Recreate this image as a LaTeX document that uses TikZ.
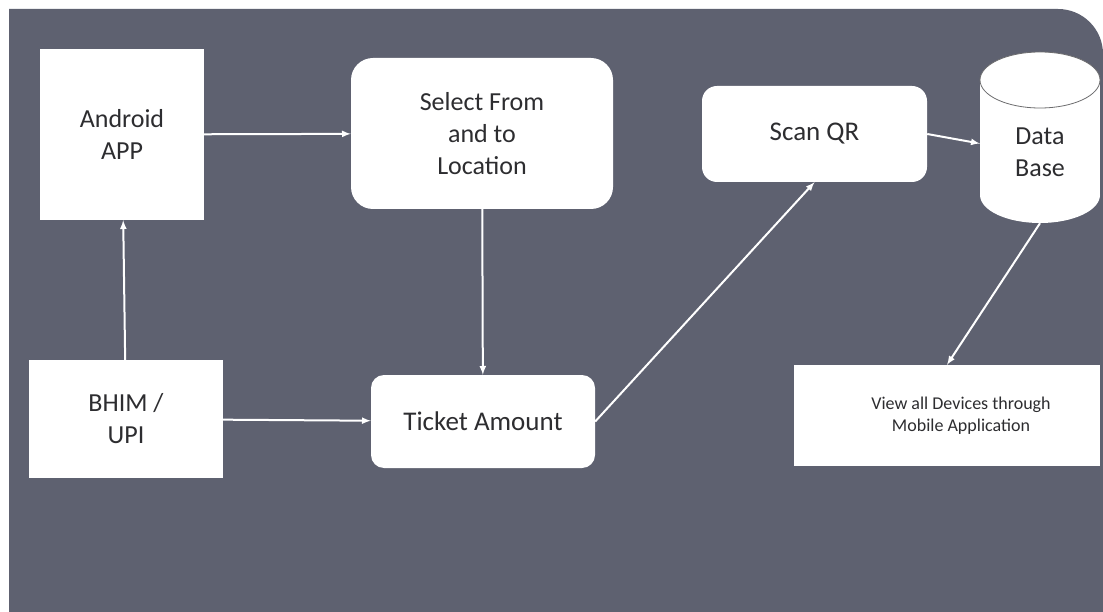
\documentclass[tikz,border=0pt]{standalone}
\usepackage{fontspec}
\setmainfont{Carlito}
\usetikzlibrary{arrows,positioning}

\definecolor{panel}{RGB}{94,97,112}
\definecolor{ink}{RGB}{45,45,48}

\tikzset{
  block/.style={fill=white, text=ink, align=center, inner sep=0pt,
    font=\fontsize{26}{32}\selectfont},
  rblock/.style={block, rounded corners=#1},
  flow/.style={draw=white, line width=2pt, -latex}
}

\begin{document}
\begin{tikzpicture}[x=1pt,y=-1pt]
	\useasboundingbox (0,0) rectangle (1103,612);
	\fill[white] (0,0) rectangle (1103,612);
	\fill[panel] (9,612) -- (9,9) [rounded corners=45pt] -- (1103,9) [sharp corners] -- (1103,612) -- cycle;
	
	\node[block, minimum width=164pt, minimum height=171pt] (android) at (122,134.5) {Android\\APP};
	\node[block, minimum width=194pt, minimum height=118pt] (bhim) at (126,419) {BHIM /\\UPI};
	\node[rblock=22pt, minimum width=262pt, minimum height=151pt] (select) at (482,133.5) {Select From\\and to\\Location};
	\node[rblock=13pt, minimum width=224pt, minimum height=93pt, font=\fontsize{27}{32}\selectfont] (ticket) at (483,421.5) {Ticket Amount};
	\node[rblock=15pt, minimum width=225pt, minimum height=96pt, font=\fontsize{27}{32}\selectfont] (scan) at (814.5,134) {Scan QR};
	
	% data base drum
	\fill[white] (980,80) rectangle (1100,195);
	\fill[white] (1040,195) ellipse [x radius=60pt, y radius=28pt];
	\fill[white] (1040,80) ellipse [x radius=60pt, y radius=28pt];
	\draw[ink!70, line width=0.8pt] (1040,80) ellipse [x radius=60pt, y radius=28pt];
	\node[minimum width=120pt, minimum height=171pt, inner sep=0pt,
	  label={[text=ink, align=center, font=\fontsize{26}{32}\selectfont, yshift=-15pt]center:{Data\\Base}}] (db) at (1040,137.5) {};
	
	\node[block, minimum width=306pt, minimum height=101pt,
	  label={[text=ink, align=center, font=\fontsize{18}{22}\selectfont, xshift=14pt]center:{View all Devices through\\Mobile Application}}] (view) at (947,415.5) {};
	
	\draw[flow] (android) -- (select);
	\draw[flow] (bhim) -- (android);
	\draw[flow] (bhim) -- (ticket);
	\draw[flow] (select) -- (ticket);
	\draw[flow] (ticket.east) -- (scan.south);
	\draw[flow] (scan.east) -- ([yshift=-6pt]db.west);
	\draw[flow] (db.south) -- (view.north);
\end{tikzpicture}
\end{document}
